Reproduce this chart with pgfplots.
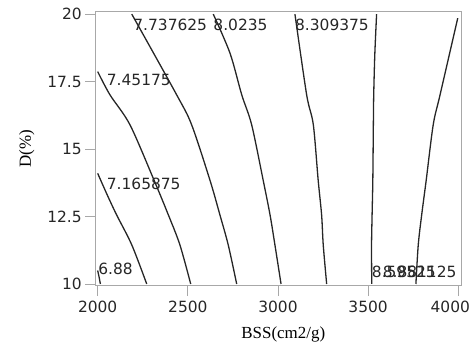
\documentclass[border=0pt]{standalone}
\usepackage{fontspec}
\setmainfont{Liberation Serif}
\newfontfamily\tickfont{DejaVu Sans}
\usepackage{pgfplots}
\pgfplotsset{compat=1.18}
\definecolor{boxgray}{HTML}{A8A8A8}
\definecolor{linec}{HTML}{262626}
\begin{document}
\begin{tikzpicture}
\begin{axis}[
  scale only axis, width=366bp, height=274bp,
  xmin=1989, xmax=4019, ymin=9.944, ymax=20.097,
  axis line style={draw=boxgray, line width=0.8bp},
  tick align=outside, major tick length=10.5bp,
  tick style={boxgray, line width=0.8bp},
  xtick={2000,2500,3000,3500},
  xticklabels={2000,2500,3000,3500},
  extra x ticks={4000}, extra x tick labels={4000},
  extra x tick style={xticklabel style={xshift=-8bp}},
  ytick={10,12.5,15,17.5,20}, yticklabels={10,12.5,15,17.5,20},
  scaled ticks=false,
  xtick pos=bottom, ytick pos=left,
  ticklabel style={font=\tickfont\fontsize{15.5}{15.5}\selectfont, text=black!85},
  xticklabel style={yshift=-2bp},
  xlabel={BSS(cm2/g)}, ylabel={D(\%)},
  label style={font=\fontsize{17}{17}\selectfont, text=black},
  xlabel style={at={(axis description cs:0.5126,0)}, anchor=base, yshift=-52.8bp},
  ylabel style={at={(axis description cs:0,0.5)}, anchor=base, yshift=64.7bp},
  cline/.style={linec, line width=1.3bp, mark=none, smooth, tension=0.5},
  clip=true,
]
% 6.88
\addplot[cline] coordinates {(2000,10.5) (2008,10.25) (2015,10.0)};
% 7.165875
\addplot[cline] coordinates {(2000,14.10) (2053,13.3) (2105,12.56) (2189,11.45) (2272,10)};
% 7.45175
\addplot[cline] coordinates {(2000,17.87) (2068,17.01) (2179,15.90) (2313,13.84) (2392,12.56) (2456,11.45) (2516,10)};
% 7.737625
\addplot[cline] coordinates {(2189,20) (2438,17.01) (2521,15.90) (2623,13.84) (2678,12.56) (2724,11.45) (2771,10)};
% 8.0235
\addplot[cline] coordinates {(2641,20) (2734,18.55) (2799,17.01) (2854,15.90) (2918,13.84) (2956,12.56) (2983,11.45) (3017,10)};
% 8.309375
\addplot[cline] coordinates {(3094,20) (3159,17.01) (3196,15.90) (3223,13.84) (3242,12.56) (3251,11.45) (3270,10)};
% 8.59525
\addplot[cline] coordinates {(3547,20) (3537,18.5) (3531,17.01) (3529,15.90) (3526,13.84) (3522,12.56) (3519,11.45) (3520,10)};
% 8.881125
\addplot[cline] coordinates {(3997,19.85) (3899,17.01) (3861,15.90) (3822,13.84) (3797,12.56) (3778,11.45) (3765,10)};
\begin{scope}[every node/.style={font=\tickfont\fontsize{15.5}{15.5}\selectfont, text=black!85, inner sep=0pt}]
\node[anchor=west] at (axis cs:2197,19.60) {7.737625};
\node[anchor=west] at (axis cs:2641,19.60) {8.0235};
\node[anchor=west] at (axis cs:3094,19.60) {8.309375};
\node[anchor=west] at (axis cs:2050,17.56) {7.45175};
\node[anchor=west] at (axis cs:2050,13.71) {7.165875};
\node[anchor=west] at (axis cs:2003,10.56) {6.88};
\node[anchor=west] at (axis cs:3520,10.46) {8.59525};
\node[anchor=east] at (axis cs:3991,10.46) {8.881125};
\end{scope}
\end{axis}
\pgfresetboundingbox
\path (current axis.south west) ++(-95.7bp,-62.5bp) rectangle ++(473bp,348bp);
\end{tikzpicture}
\end{document}
